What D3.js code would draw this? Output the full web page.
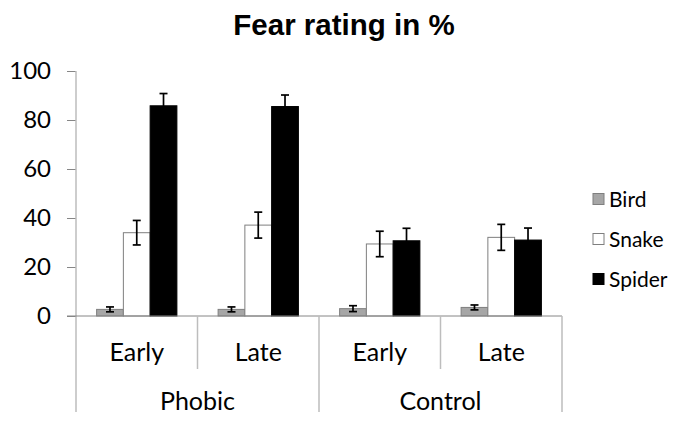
<!DOCTYPE html>
<html>
<head>
<meta charset="utf-8">
<script src="https://cdn.jsdelivr.net/npm/d3@7"></script>
<style>
  body { margin: 0; background: #fff; }
  text { font-family: Lato, "Open Sans", sans-serif; fill: #000; }
</style>
</head>
<body>
<div id="viz"></div>
<script>
// data
var groups = ["Phobic", "Control"];
var phases = ["Early", "Late"];
var series = ["Bird", "Snake", "Spider"];
var fills = ["#a6a6a6", "#ffffff", "#000000"];
var strokes = ["#7f7f7f", "#7f7f7f", "#000000"];

// one entry per category (Phobic Early, Phobic Late, Control Early, Control Late)
var birdVals = [2.7, 2.7, 3.0, 3.5];
var snakeVals = [34.0, 37.1, 29.4, 32.1];
var spiderVals = [85.8, 85.5, 30.7, 31.0];
var birdErr = [1.0, 1.0, 1.2, 1.0];
var snakeErr = [5.0, 5.3, 5.2, 5.3];
var spiderErr = [5.0, 4.7, 5.1, 4.9];
var yTicks = [0, 20, 40, 60, 80, 100];

var width = 677, height = 423;
var plotLeft = 76, plotRight = 562, plotTop = 71, plotBottom = 316;

var svg = d3.select("#viz").append("svg").attr("width", width).attr("height", height);

var cats = [];
groups.forEach(function (g) {
    phases.forEach(function (p) { cats.push(g + "|" + p); });
});

var x = d3.scaleBand().domain(cats).range([plotLeft, plotRight]).paddingInner(0).paddingOuter(0);
var xs = d3.scaleBand().domain(series).range([0, x.bandwidth()]).paddingInner(0).paddingOuter(0.77);
var y = d3.scaleLinear().domain([0, 100]).range([plotBottom, plotTop]);

var data = [];
var vals = [birdVals, snakeVals, spiderVals];
var errs = [birdErr, snakeErr, spiderErr];
cats.forEach(function (c, i) {
    series.forEach(function (s, j) {
        data.push({cat: c, s: s, j: j, v: vals[j][i], e: errs[j][i]});
    });
});

// title
svg.append("text")
    .attr("x", 344).attr("y", 35)
    .attr("text-anchor", "middle")
    .style("font-family", "'Liberation Sans', Arial, sans-serif")
    .style("font-weight", "bold")
    .style("font-size", "29.5px")
    .text("Fear rating in %");

// y axis
var yAxis = d3.axisLeft(y).tickValues(yTicks).tickSize(9).tickPadding(16);
var gy = svg.append("g").attr("transform", "translate(" + plotLeft + ",0)").call(yAxis);
gy.select(".domain").remove();
gy.selectAll(".tick line").attr("stroke", "#868686");
gy.selectAll(".tick text").style("font-size", "24px").style("font-family", "Lato, sans-serif").attr("fill", "#000");

svg.append("line")
    .attr("x1", plotLeft).attr("x2", plotLeft)
    .attr("y1", plotTop).attr("y2", 412)
    .attr("stroke", "#bdbdbd").attr("stroke-width", 1.5);

// bars
svg.append("g").selectAll("rect").data(data).enter().append("rect")
    .attr("x", function (d) { return x(d.cat) + xs(d.s); })
    .attr("y", function (d) { return y(d.v); })
    .attr("width", xs.bandwidth())
    .attr("height", function (d) { return y(0) - y(d.v); })
    .attr("fill", function (d) { return fills[d.j]; })
    .attr("stroke", function (d) { return strokes[d.j]; })
    .attr("stroke-width", 1);

// error bars
var eb = svg.append("g").selectAll("g").data(data).enter().append("g")
    .attr("transform", function (d) { return "translate(" + (x(d.cat) + xs(d.s) + xs.bandwidth() / 2) + ",0)"; });
eb.append("line")
    .attr("y1", function (d) { return y(d.v - d.e); })
    .attr("y2", function (d) { return y(d.v + d.e); })
    .attr("stroke", "#000").attr("stroke-width", 1.7);
eb.append("line")
    .attr("x1", -4).attr("x2", 4)
    .attr("y1", function (d) { return y(d.v + d.e); })
    .attr("y2", function (d) { return y(d.v + d.e); })
    .attr("stroke", "#000").attr("stroke-width", 1.7);
eb.append("line")
    .attr("x1", -4).attr("x2", 4)
    .attr("y1", function (d) { return y(d.v - d.e); })
    .attr("y2", function (d) { return y(d.v - d.e); })
    .attr("stroke", "#000").attr("stroke-width", 1.7);

// x axis line
svg.append("line")
    .attr("x1", plotLeft - 9).attr("x2", plotRight)
    .attr("y1", y(0)).attr("y2", y(0))
    .attr("stroke", "#868686").attr("stroke-width", 1);

// category labels
var xAxis = d3.axisBottom(x).tickSize(0).tickFormat(function (d) { return d.split("|")[1]; });
var gx = svg.append("g").attr("transform", "translate(0," + y(0) + ")").call(xAxis);
gx.select(".domain").remove();
gx.selectAll(".tick text").attr("dy", 0).attr("y", 45).style("font-size", "25px").style("font-family", "Lato, sans-serif").attr("fill", "#000");

// separators: short between phases, long between groups
svg.append("g").selectAll("line").data(cats.slice(1).concat(["end"])).enter().append("line")
    .attr("x1", function (d) { return d === "end" ? plotRight : x(d); })
    .attr("x2", function (d) { return d === "end" ? plotRight : x(d); })
    .attr("y1", y(0))
    .attr("y2", function (d, i) { return (i % 2 === 0) ? 369 : 412; })
    .attr("stroke", "#bdbdbd").attr("stroke-width", 1.5);

svg.append("g").selectAll("text").data(groups).enter().append("text")
    .attr("x", function (g) { return (x(g + "|Early") + x(g + "|Late") + x.bandwidth()) / 2; })
    .attr("y", 410)
    .attr("text-anchor", "middle")
    .style("font-size", "25px")
    .text(function (g) { return g; });

// legend
var leg = svg.append("g").selectAll("g").data(series).enter().append("g")
    .attr("transform", function (d, i) { return "translate(593," + (199 + i * 40) + ")"; });
leg.append("rect")
    .attr("x", 0).attr("y", -5.5).attr("width", 11).attr("height", 11)
    .attr("fill", function (d, i) { return fills[i]; })
    .attr("stroke", function (d, i) { return strokes[i]; });
leg.append("text")
    .attr("x", 16).attr("dy", "0.36em")
    .style("font-size", "21px")
    .text(function (d) { return d; });
</script>
</body>
</html>
